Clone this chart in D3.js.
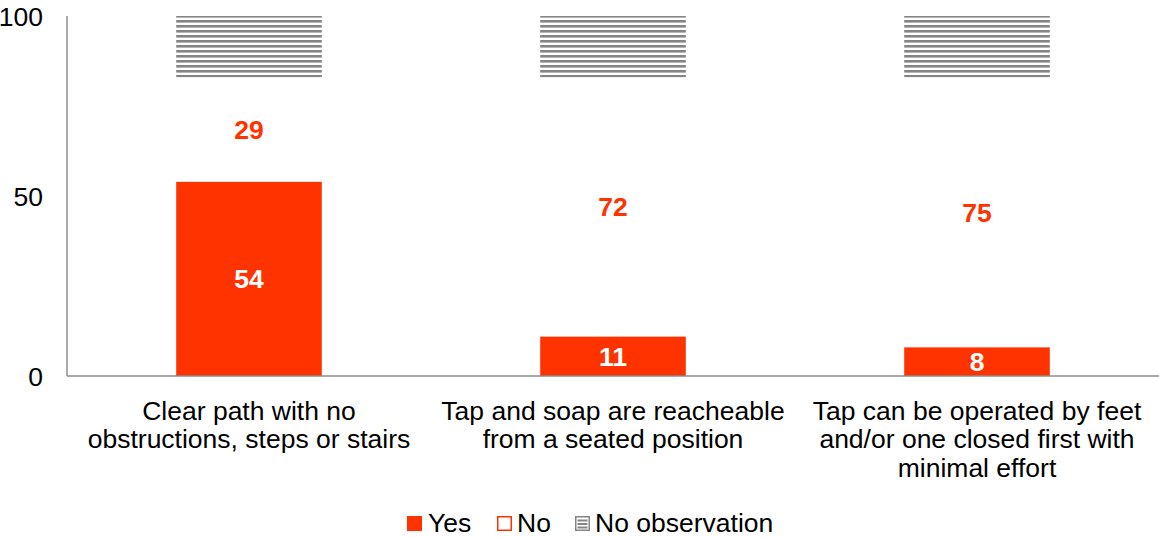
<!DOCTYPE html>
<html><head><meta charset="utf-8">
<script src="https://cdn.jsdelivr.net/npm/d3@7"></script>
<style>body{margin:0;background:#fff}svg{font-family:"Liberation Sans",Arial,sans-serif}</style>
</head><body>
<svg id="c" width="1159" height="538"></svg>
<script>
const categories = [
  ["Clear path with no", "obstructions, steps or stairs"],
  ["Tap and soap are reacheable", "from a seated position"],
  ["Tap can be operated by feet", "and/or one closed first with", "minimal effort"]
];
const yesValues = [54, 11, 8];
const noValues = [29, 72, 75];
const noObsValues = [17, 17, 17];
const yTicks = [0, 50, 100];
const seriesNames = ["Yes", "No", "No observation"];

(function(){
const FS = 26.5;
const svg = d3.select("#c");
const defs = svg.append("defs");
const pat = defs.append("pattern").attr("id","hatch").attr("patternUnits","userSpaceOnUse")
  .attr("width",10).attr("height",5);
pat.append("rect").attr("width",10).attr("height",5).attr("fill","#fff");
pat.append("rect").attr("y",0).attr("width",10).attr("height",2.6).attr("fill","#858585");

const pLeft = 67, pRight = 1159, pTop = 16, pBottom = 376;
const x = d3.scaleBand().domain(d3.range(categories.length)).range([pLeft, pRight]).paddingInner(0.6).paddingOuter(0.3);
const y = d3.scaleLinear().domain([0,100]).range([pBottom, pTop]);

const rows = categories.map((c,i)=>({i, yes:yesValues[i], no:noValues[i], noobs:noObsValues[i]}));
const stack = d3.stack().keys(["yes","no","noobs"])(rows);
const fills = {yes:"#ff3300", no:"#ffffff", noobs:"url(#hatch)"};

stack.forEach(layer=>{
  svg.append("g").selectAll("rect").data(layer).join("rect")
    .attr("x", d=>x(d.data.i)).attr("width", x.bandwidth())
    .attr("y", d=>y(d[1])).attr("height", d=>y(d[0])-y(d[1]))
    .attr("fill", fills[layer.key]);
});

stack.slice(0,2).forEach(layer=>{
  svg.append("g").selectAll("text").data(layer).join("text")
    .attr("x", d=>x(d.data.i)+x.bandwidth()/2)
    .attr("y", d=>(y(d[0])+y(d[1]))/2)
    .attr("dy","0.36em").attr("text-anchor","middle")
    .attr("font-size",FS).attr("font-weight","bold")
    .attr("fill", layer.key==="yes" ? "#fff" : "#ff3300")
    .text(d=>d[1]-d[0]);
});

svg.append("line").attr("x1",pLeft).attr("x2",pLeft).attr("y1",pTop).attr("y2",pBottom).attr("stroke","#8c8c8c").attr("stroke-width",1.5);
svg.append("line").attr("x1",pLeft).attr("x2",pRight).attr("y1",pBottom).attr("y2",pBottom).attr("stroke","#8c8c8c").attr("stroke-width",1.5);
svg.append("g").selectAll("text").data(yTicks).join("text")
  .attr("x",43).attr("y",d=>y(d)).attr("dy","0.36em").attr("text-anchor","end")
  .attr("font-size",FS).attr("fill","#000").text(d=>d);

categories.forEach((lines,i)=>{
  const t = svg.append("text").attr("text-anchor","middle").attr("font-size",FS).attr("fill","#000");
  lines.forEach((l,k)=>{
    t.append("tspan").attr("x", x(i)+x.bandwidth()/2).attr("y", 419.5 + k*28.5).text(l);
  });
});

const lg = svg.append("g");
const items = [
  {name:seriesNames[0], sx:407, tx:428},
  {name:seriesNames[1], sx:497, tx:517},
  {name:seriesNames[2], sx:575, tx:595}
];
items.forEach((it,k)=>{
  if(k===0) lg.append("rect").attr("x",it.sx).attr("y",516).attr("width",15).attr("height",15).attr("fill","#ff3300");
  if(k===1) lg.append("rect").attr("x",it.sx+0.75).attr("y",516.75).attr("width",13.5).attr("height",13.5).attr("fill","#fff").attr("stroke","#ff3300").attr("stroke-width",1.5);
  if(k===2){
    lg.append("rect").attr("x",it.sx+0.75).attr("y",516.75).attr("width",13.5).attr("height",13.5).attr("fill","#fff").attr("stroke","#858585").attr("stroke-width",1.5);
    [520,523.5,527].forEach(yy=>lg.append("rect").attr("x",it.sx+2.5).attr("y",yy-0.5).attr("width",10).attr("height",2).attr("fill","#858585"));
  }
  lg.append("text").attr("x",it.tx).attr("y",532).attr("font-size",FS).attr("fill","#000").text(it.name);
});
})();
</script>
</body></html>
